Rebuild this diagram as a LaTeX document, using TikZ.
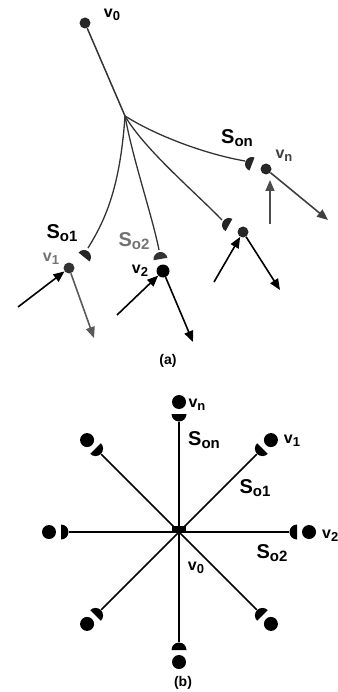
\documentclass[tikz,border=0pt]{standalone}
\usepackage{fontspec}
\setmainfont{Liberation Sans}
\usetikzlibrary{arrows.meta,calc}

% label helpers: big S with lowered subscript, small v with lowered subscript
\newcommand\Slab[1]{\fontsize{20}{20}\selectfont S\raisebox{-3pt}{\fontsize{15}{15}\selectfont #1}}
\newcommand\vlab[1]{\fontsize{16}{16}\selectfont v\raisebox{-3pt}{\fontsize{13}{13}\selectfont #1}}
% half-disk: flat side at the given point, facing direction #2 (y points down), bulge behind it
\newcommand\halfdisk[4][black]{%
  \fill[#1,shift={(#3)},rotate=-#2] (0,#4) arc[start angle=90,end angle=270,radius=#4] -- cycle;}

\begin{document}
\begin{tikzpicture}[x=1pt,y=-1pt,
  lbl/.style={inner sep=0pt,font=\bfseries},
  adot/.style={circle,fill=#1,inner sep=0pt,minimum size=11pt},
  adot/.default={black!85},
  bdot/.style={circle,fill=black,inner sep=0pt,minimum size=14pt},
  curve/.style={draw=black!80,line width=1.3pt},
  ray/.style={draw=black,line width=1.7pt},
  flow/.style={line width=1.6pt,-{Triangle[length=11pt,width=9pt]}},
]
\useasboundingbox (0,0) rectangle (337,692);

% ---------------- (a) tree from v0 ----------------
\coordinate (hub) at (125,116);
\node[adot] (a0) at (85,23) {};
\draw[curve,line width=1.5pt] (a0) -- (hub);

% half-disk terminals
\halfdisk[black!85]{129}{84,257}{7}
\halfdisk[black!80]{80}{160.5,259}{7}
\halfdisk[black!85]{29}{229,225}{7}
\halfdisk[black!85]{21}{252,164}{7}
\coordinate (s1) at (88,248);
\coordinate (s2) at (159,250);
\coordinate (s3) at (222,220);
\coordinate (sn) at (245,161);

\draw[curve] (hub) .. controls (120,190) and (104,222) .. (s1);
\draw[curve] (hub) .. controls (133,160) and (152,215) .. (s2);
\draw[curve] (hub) .. controls (145,150) and (195,192) .. (s3);
\draw[curve] (hub) .. controls (160,138) and (210,155) .. (sn);

% vertices
\node[adot=black!80] (a1) at (69,268) {};
\node[adot=black,minimum size=13pt] (a2) at (163,271) {};
\node[adot] (a3) at (243,232) {};
\node[adot] (an) at (266,169) {};

% incoming and outgoing arrows
\coordinate (i1) at (18,307);
\coordinate (o1) at (94,338);
\coordinate (i2) at (117,315);
\coordinate (o2) at (193,342);
\coordinate (i3) at (214,282);
\coordinate (o3) at (280,290);
\coordinate (in) at (270,224);
\coordinate (inT) at (270,180);
\coordinate (on) at (328,220);

\draw[flow] (i1) -- (a1);
\draw[flow,black!65] (a1) -- (o1);
\draw[flow] (i2) -- (a2);
\draw[flow] (a2) -- (o2);
\draw[flow] (i3) -- (a3);
\draw[flow] (a3) -- (o3);
\draw[flow,black!70] (in) -- (inT);
\draw[flow,black!75] (an) -- (on);

% labels
\node[lbl] (la0) at (112,15) {\vlab{0}};
\node[lbl] (lsn) at (237,138) {\Slab{on}};
\node[lbl,black!75] (lan) at (284,156) {\vlab{n}};
\node[lbl] (ls1) at (62,233) {\Slab{o1}};
\node[lbl,black!55] (la1) at (51,259) {\vlab{1}};
\node[lbl,black!55] (ls2) at (134,241) {\Slab{o2}};
\node[lbl] (la2) at (140,271) {\vlab{2}};
\node[lbl,font=\bfseries\fontsize{14}{14}\selectfont] (capa) at (168,361) {(a)};

% ---------------- (b) star around v0 ----------------
\coordinate (c) at (179,532);
\foreach \ang/\nm in {-90/n,-45/p1,0/p2,45/p3,90/p4,135/p5,180/p6,-135/p7}{
  \coordinate (e\nm) at ($(c)+(\ang:110)$);
  \draw[ray] (c) -- (e\nm);
  \halfdisk{\ang}{$(c)+(\ang:118)$}{7.5}
  \node[bdot] (b\nm) at ($(c)+(\ang:130)$) {};
}
\fill (172,525.5) rectangle (186,532.5);

\node[lbl] (lbn) at (197,405) {\vlab{n}};
\node[lbl] (lbsn) at (204,440) {\Slab{on}};
\node[lbl] (lb1) at (292,441) {\vlab{1}};
\node[lbl] (lbs1) at (255,488) {\Slab{o1}};
\node[lbl,anchor=west] (lb2) at (322,536) {\vlab{2}};
\node[lbl] (lbs2) at (272,553) {\Slab{o2}};
\node[lbl] (lb0) at (196,568) {\vlab{0}};
\node[lbl,font=\bfseries\fontsize{14}{14}\selectfont] (capb) at (183,683) {(b)};
\end{tikzpicture}
\end{document}
